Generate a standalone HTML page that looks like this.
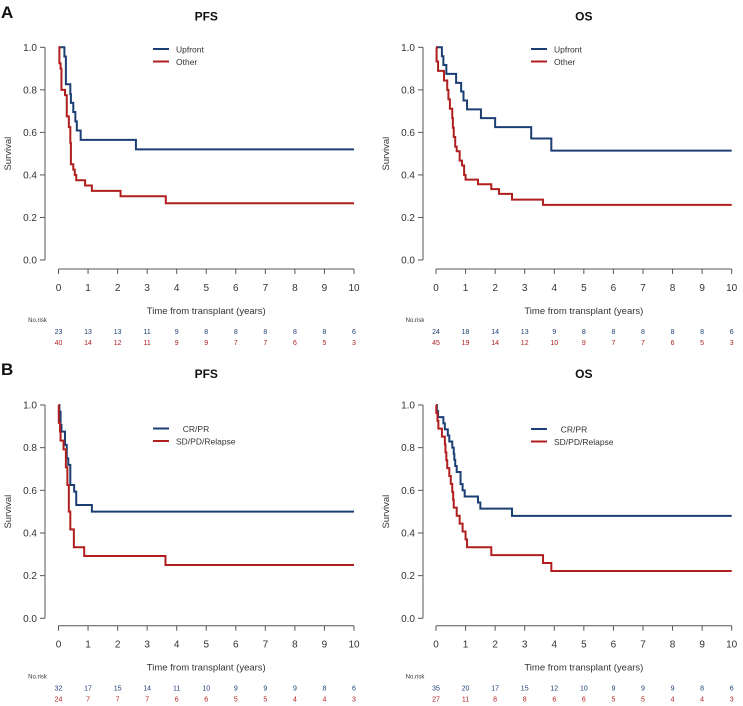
<!DOCTYPE html>
<html><head><meta charset="utf-8"><style>
html,body{margin:0;padding:0;background:#fff;}
svg{display:block;font-family:"Liberation Sans",Arial,sans-serif;}
</style></head><body>
<svg id="c" width="743" height="706" viewBox="0 0 743 706"></svg>
<script>
const yearTicks=[0,1,2,3,4,5,6,7,8,9,10];
const survTicks=[0,0.2,0.4,0.6,0.8,1.0];
const A_pfs_up=[[0,1],[0.2,0.957],[0.25,0.826],[0.4,0.78],[0.42,0.739],[0.5,0.696],[0.57,0.652],[0.62,0.609],[0.75,0.565],[2.62,0.52]];
const A_pfs_ot=[[0,1],[0.03,0.925],[0.07,0.9],[0.1,0.8],[0.22,0.775],[0.28,0.675],[0.35,0.625],[0.4,0.55],[0.42,0.45],[0.5,0.425],[0.55,0.4],[0.6,0.375],[0.9,0.35],[1.13,0.325],[2.1,0.3],[3.63,0.267]];
const A_os_up=[[0,1],[0.2,0.958],[0.25,0.917],[0.35,0.875],[0.68,0.833],[0.85,0.792],[0.93,0.75],[1.05,0.708],[1.52,0.667],[2.0,0.625],[3.22,0.571],[3.9,0.514]];
const A_os_ot=[[0,1],[0.02,0.933],[0.07,0.889],[0.27,0.844],[0.38,0.8],[0.42,0.756],[0.47,0.711],[0.55,0.667],[0.57,0.622],[0.6,0.578],[0.65,0.533],[0.7,0.511],[0.8,0.467],[0.88,0.444],[0.95,0.4],[1.0,0.378],[1.42,0.356],[1.87,0.333],[2.13,0.311],[2.57,0.284],[3.62,0.259]];
const B_pfs_cr=[[0,1],[0.03,0.969],[0.07,0.906],[0.1,0.875],[0.22,0.813],[0.28,0.75],[0.33,0.719],[0.4,0.625],[0.53,0.594],[0.6,0.531],[1.13,0.5]];
const B_pfs_sd=[[0,1],[0.01,0.917],[0.05,0.875],[0.07,0.833],[0.17,0.792],[0.25,0.708],[0.3,0.625],[0.35,0.5],[0.4,0.417],[0.52,0.333],[0.87,0.292],[3.62,0.25]];
const B_os_cr=[[0,1],[0.03,0.971],[0.07,0.943],[0.25,0.914],[0.3,0.886],[0.4,0.857],[0.45,0.829],[0.55,0.8],[0.6,0.771],[0.62,0.743],[0.65,0.714],[0.7,0.686],[0.83,0.629],[0.9,0.6],[0.97,0.571],[1.42,0.543],[1.5,0.514],[2.57,0.48]];
const B_os_sd=[[0,1],[0.01,0.963],[0.05,0.926],[0.08,0.889],[0.2,0.852],[0.3,0.815],[0.32,0.778],[0.35,0.741],[0.38,0.704],[0.45,0.667],[0.5,0.63],[0.55,0.593],[0.58,0.556],[0.6,0.519],[0.7,0.481],[0.8,0.444],[0.9,0.407],[1.0,0.37],[1.05,0.333],[1.87,0.296],[3.62,0.259],[3.9,0.222]];
const risk_A_pfs_up=[23,13,13,11,9,8,8,8,8,8,6];
const risk_A_pfs_ot=[40,14,12,11,9,9,7,7,6,5,3];
const risk_A_os_up=[24,18,14,13,9,8,8,8,8,8,6];
const risk_A_os_ot=[45,19,14,12,10,9,7,7,6,5,3];
const risk_B_pfs_cr=[32,17,15,14,11,10,9,9,9,8,6];
const risk_B_pfs_sd=[24,7,7,7,6,6,5,5,4,4,3];
const risk_B_os_cr=[35,20,17,15,12,10,9,9,9,8,6];
const risk_B_os_sd=[27,11,8,8,6,6,5,5,4,4,3];
const BLUE="#1c3f73",RED="#b01e1e";
const svg=document.getElementById('c');const NS="http://www.w3.org/2000/svg";
function mk(t,a,p){const e=document.createElementNS(NS,t);for(const k in a)e.setAttribute(k,a[k]);(p||svg).appendChild(e);return e;}
function txt(s,a,p){const e=mk('text',a,p);e.textContent=s;return e;}
function panel(o){
 const g=mk('g',{});
 
 
 const x=t=>o.x0+t*(o.x1-o.x0)/10, y=s=>o.y0+(1-s)*(o.y1-o.y0);
 const axc="#555";
 // title
 const tt=txt(o.title,{x:(o.x0+o.x1)/2,y:o.y0-27,'text-anchor':'middle','font-size':12,'font-weight':'bold',fill:'#111'},g);
 
 
 // y axis
 const ya=mk('g',{},g);
 
 
 mk('line',{x1:o.ax,x2:o.ax,y1:y(1),y2:y(0),stroke:axc,'stroke-width':1},ya);
 survTicks.forEach(s=>{mk('line',{x1:o.ax-5,x2:o.ax,y1:y(s),y2:y(s),stroke:axc},ya);
  txt(s.toFixed(1),{x:o.ax-8,y:y(s)+3.5,'text-anchor':'end','font-size':10,fill:'#333'},ya);});
 const yt=txt('Survival',{x:0,y:0,transform:`translate(${o.ax-34},${(y(0)+y(1))/2}) rotate(-90)`,'text-anchor':'middle','font-size':9.5,fill:'#333'},g);
 
 
 // x axis
 const xa=mk('g',{},g);
 
 
 mk('line',{x1:x(0),x2:x(10),y1:o.xay,y2:o.xay,stroke:axc},xa);
 yearTicks.forEach(t=>{mk('line',{x1:x(t),x2:x(t),y1:o.xay,y2:o.xay+5,stroke:axc},xa);
  txt(String(t),{x:x(t),y:o.xay+22,'text-anchor':'middle','font-size':10,fill:'#333'},xa);});
 const xt=txt('Time from transplant (years)',{x:(o.x0+o.x1)/2,y:o.xay+45,'text-anchor':'middle','font-size':9.5,fill:'#333'},g);
 
 
 // curves
 o.series.forEach(s=>{
  let d=`M${x(s.data[0][0])},${y(s.data[0][1])}`;
  for(let i=1;i<s.data.length;i++){d+=`H${x(s.data[i][0])}V${y(s.data[i][1])}`;}
  d+=`H${x(10)}`;
  const p=mk('path',{d:d,fill:'none',stroke:s.color,'stroke-width':2},g);
  
  
 });
 // legend
 const lg=mk('g',{},g);
 
 
 o.series.forEach((s,i)=>{const ly=o.ly+i*12.5;
  mk('line',{x1:o.lx,x2:o.lx+16,y1:ly,y2:ly,stroke:s.color,'stroke-width':2},lg);
  txt(s.label,{x:s.lcx!==undefined?o.lx+s.lcx:o.lx+23,y:ly+3.5,'text-anchor':s.lcx!==undefined?'middle':'start','font-size':8.5,fill:'#333'},lg);});
 // number at risk
 const rk=mk('g',{},g);
 
 
 txt('No.risk',{x:x(0)-21,y:o.xay+53,'font-size':6,fill:'#333','text-anchor':'middle'},rk);
 o.series.forEach((s,i)=>{s.risk.forEach((v,j)=>{
  txt(String(v),{x:x(yearTicks[j]),y:o.xay+65+i*11,'text-anchor':'middle','font-size':7,fill:s.color},rk);});});
}
panel({name:'panel-a-pfs',title:'PFS',x0:58.5,x1:354,y0:47.3,y1:260,ax:45,xay:269,lx:153,ly:49,
 series:[{key:'upfront',label:'Upfront',color:BLUE,data:A_pfs_up,risk:risk_A_pfs_up},{key:'other',label:' Other',color:RED,data:A_pfs_ot,risk:risk_A_pfs_ot}]});
panel({name:'panel-a-os',title:'OS',x0:436,x1:731.7,y0:47.3,y1:260,ax:423,xay:269,lx:531,ly:49,
 series:[{key:'upfront',label:'Upfront',color:BLUE,data:A_os_up,risk:risk_A_os_up},{key:'other',label:' Other',color:RED,data:A_os_ot,risk:risk_A_os_ot}]});
panel({name:'panel-b-pfs',title:'PFS',x0:58.5,x1:354,y0:405,y1:618.3,ax:45,xay:625.7,lx:153,ly:428.5,
 series:[{key:'cr-pr',label:'CR/PR',lcx:43,color:BLUE,data:B_pfs_cr,risk:risk_B_pfs_cr},{key:'sd-pd-relapse',label:'SD/PD/Relapse',color:RED,data:B_pfs_sd,risk:risk_B_pfs_sd}]});
panel({name:'panel-b-os',title:'OS',x0:436,x1:731.7,y0:405,y1:618.3,ax:423,xay:625.7,lx:531,ly:429,
 series:[{key:'cr-pr',label:'CR/PR',lcx:43,color:BLUE,data:B_os_cr,risk:risk_B_os_cr},{key:'sd-pd-relapse',label:'SD/PD/Relapse',color:RED,data:B_os_sd,risk:risk_B_os_sd}]});
const la=txt('A',{x:1,y:18,'font-size':17,'font-weight':'bold',fill:'#111'});


const lb=txt('B',{x:1,y:375,'font-size':17,'font-weight':'bold',fill:'#111'});


</script>
</body></html>
